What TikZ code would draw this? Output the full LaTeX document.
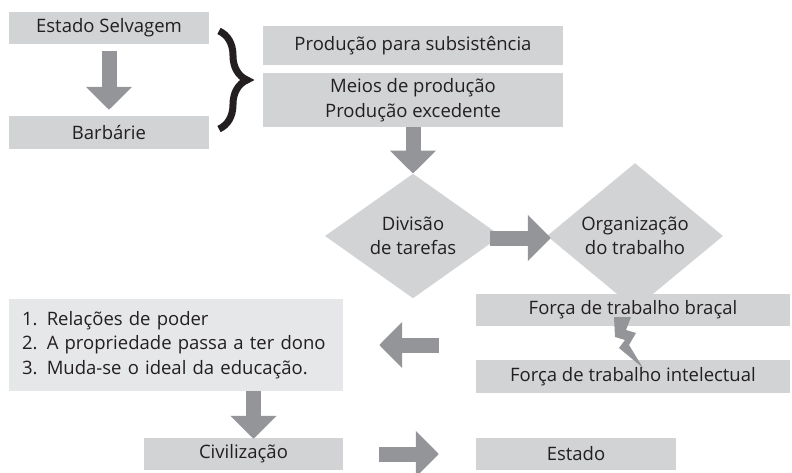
\documentclass[tikz,border=0pt]{standalone}
\usepackage{fontspec}
\setmainfont{Open Sans}
\usetikzlibrary{shapes.geometric,
                calc, %for relative coord calculations
                decorations.pathreplacing, %for the brace
                arrows.meta, % for block arrows
                positioning}
\definecolor{boxgray}{RGB}{209,211,212}
\definecolor{listgray}{RGB}{230,231,232}
\definecolor{arrowgray}{RGB}{147,149,152}
\definecolor{textgray}{RGB}{35,31,32}

\begin{document}
\begin{tikzpicture}[x=1pt, y=-1pt,
                    Box/.style={fill=boxgray, inner sep=0pt, text=textgray, align=center,
                                font=\fontsize{18.5}{24.5}\selectfont},
                    Rhombus/.style={Box, diamond, minimum width=176pt, minimum height=106pt},
                    bigarrow/.style={arrowgray, line width=15pt, -{Triangle[length=23pt, width=45pt]}},
                    Brace/.style={decorate, decoration={brace, amplitude=28pt, aspect=0.5}, line width=7pt, textgray}
                    ]
    \useasboundingbox (0,0) rectangle (792,473);

    % TOP LEFT %
    \node[Box, minimum width=200pt, minimum height=32pt] (Selv) at (109,28) {Estado Selvagem};
    \node[Box, minimum width=200pt, minimum height=33pt] (Barb) at (109,132.5) {Barbárie};
    \draw[bigarrow, shorten <=7pt, shorten >=6pt] (Selv) -- (Barb);

    % BRACE %
    \coordinate (Btop) at (219,31);
    \coordinate (Bbot) at (219,129);
    \draw[Brace] (Btop) -- (Bbot);

    % TOP RIGHT %
    \node[Box, minimum width=300pt, minimum height=39pt] (Subs) at (413,45.5) {Produção para subsistência};
    \node[Box, minimum width=300pt, minimum height=54pt] (Meios) at (413,100) {Meios de produção\\Produção excedente};

    % DIAMONDS %
    \node[Rhombus] (Div) at (413,236) {Divisão\\de tarefas};
    \node[Rhombus] (Org) at (635,236) {Organização\\do trabalho};
    \draw[bigarrow] (Meios) -- (Div);
    \draw[bigarrow, shorten <=-11pt, shorten >=-4pt] ($(Div.east)+(0,2)$) -- ($(Org.west)+(0,2)$);

    % WORK FORCE %
    \node[Box, minimum width=314pt, minimum height=32pt] (Bracal) at (633,310) {Força de trabalho braçal};
    \node[Box, minimum width=314pt, minimum height=33pt] (Intel) at (633,376.5) {Força de trabalho intelectual};
    \fill[arrowgray] (614,317) -- (631,317) -- (626,330) -- (636,333) -- (629,345)
                     -- (643,368) -- (619,348) -- (625,340) -- (615,337) -- cycle;

    % LIST %
    \node[Box, fill=listgray, align=left, text width=308pt, inner xsep=13pt,
          minimum height=92pt] (Lista) at (176,345)
          {1. Relações de poder\\2. A propriedade passa a ter dono\\3. Muda-se o ideal da educação.};
    \draw[bigarrow, shorten <=37pt, shorten >=36pt] (Bracal.west |- Lista.east) -- (Lista.east);

    % BOTTOM %
    \node[Box, minimum width=199pt, minimum height=32pt] (Civ) at (243.5,454) {Civilização};
    \node[Box, minimum width=200pt, minimum height=32pt] (Est) at (576,454) {Estado};
    \coordinate (Ldown) at ($(Civ.north)+(10,0)$);
    \draw[bigarrow, shorten >=-1pt] (Lista.south -| Ldown) -- (Ldown);
    \draw[bigarrow, shorten <=36pt, shorten >=37pt] (Civ) -- (Est);

\end{tikzpicture}
\end{document}
